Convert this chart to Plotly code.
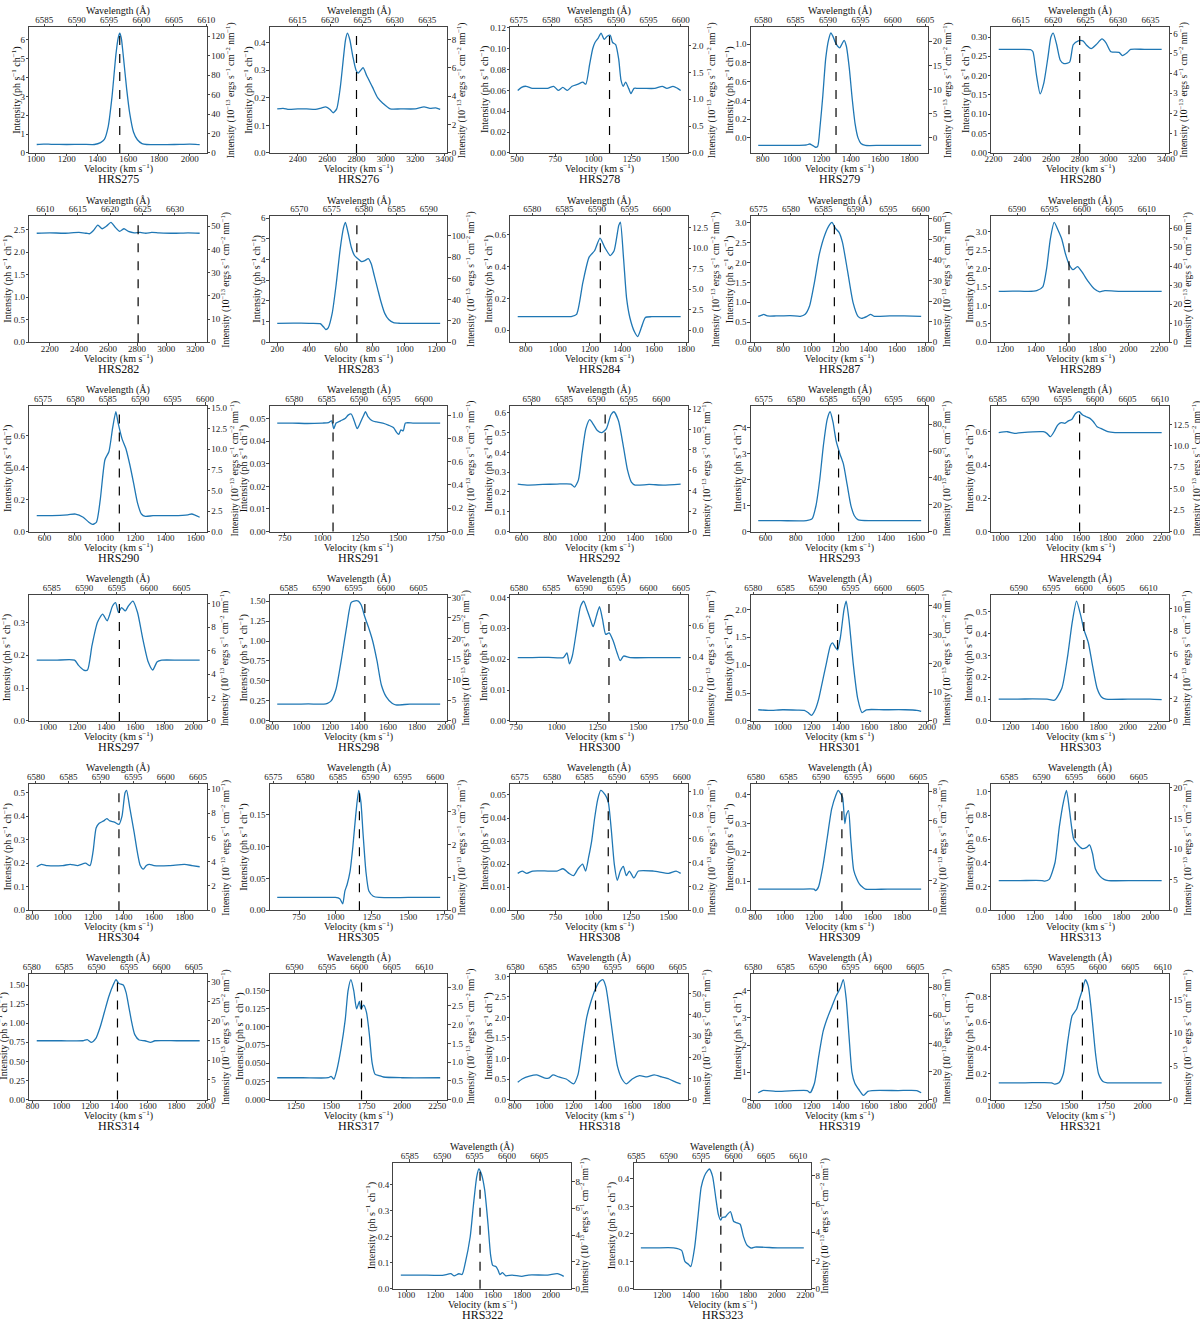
import math

import numpy as np
import plotly.graph_objects as go

C_KMS = 299792.458
HALPHA = 6562.8
WL_SPAN = 27.4  # width of the wavelength axis, Angstrom

names = ["HRS275", "HRS276", "HRS278", "HRS279", "HRS280",
         "HRS282", "HRS283", "HRS284", "HRS287", "HRS289",
         "HRS290", "HRS291", "HRS292", "HRS293", "HRS294",
         "HRS297", "HRS298", "HRS300", "HRS301", "HRS303",
         "HRS304", "HRS305", "HRS308", "HRS309", "HRS313",
         "HRS314", "HRS317", "HRS318", "HRS319", "HRS321",
         "HRS322", "HRS323"]

# systemic velocity (dashed line), km/s
vsys = [1545, 2800, 1105, 1300, 2800,
        2807, 700, 1265, 1160, 1615,
        1095, 1070, 1190, 1085, 1590,
        1490, 1440, 1320, 1380, 1700,
        1370, 1165, 1100, 1390, 1480,
        1390, 1715, 1350, 1380, 1590,
        1510, 1610]

# velocity tick spacing
vel_dtick = [200, 200, 250, 200, 200,
             200, 200, 200, 200, 200,
             200, 250, 200, 200, 200,
             200, 200, 250, 200, 200,
             200, 250, 250, 200, 200,
             200, 250, 200, 200, 250,
             200, 200]

# offset of the observed wavelength scale from the H-alpha conversion, Angstrom
wl_shift = [0.0, 0.0, 1.9, 0.0, 0.0,
            0.0, 0.8, 0.0, -1.5, 0.0,
            0.0, 0.0, 2.5, 0.0, 0.0,
            0.0, 2.4, 2.0, 0.0, 0.0,
            0.0, 0.0, 1.7, 0.0, 0.0,
            0.0, 0.0, 0.0, 0.0, 0.0,
            0.0, 0.0]

# ph s-1 ch-1  ->  1e-13 erg s-1 cm-2 nm-1
flux_factor = [19.4] * 15 + [28.0] + [19.4] * 16

# (velocity km/s, intensity ph s-1 ch-1)
hrs275 = [(1005, 0.45), (1050, 0.47), (1100, 0.46), (1200, 0.45), (1300, 0.46), (1380, 0.45),
          (1420, 0.55), (1445, 0.72), (1470, 1.4), (1495, 3.0), (1520, 5.2), (1535, 6.1),
          (1545, 6.35), (1555, 6.1), (1570, 5.0), (1590, 3.4), (1610, 2.1), (1635, 1.1),
          (1660, 0.7), (1690, 0.5), (1720, 0.45), (1800, 0.44), (1900, 0.45), (2000, 0.47),
          (2040, 0.46), (2065, 0.44)]
hrs276 = [(2260, 0.16), (2300, 0.162), (2340, 0.158), (2400, 0.16), (2460, 0.16), (2520, 0.158),
          (2560, 0.163), (2590, 0.167), (2620, 0.158), (2641, 0.146), (2665, 0.16), (2690, 0.24),
          (2710, 0.34), (2725, 0.41), (2738, 0.435), (2755, 0.41), (2775, 0.35), (2797, 0.30),
          (2811, 0.29), (2828, 0.30), (2845, 0.31), (2870, 0.28), (2908, 0.24), (2945, 0.2),
          (2981, 0.18), (3030, 0.16), (3100, 0.16), (3200, 0.16), (3260, 0.167), (3300, 0.162),
          (3340, 0.164), (3370, 0.158)]
hrs278 = [(505, 0.060), (530, 0.063), (560, 0.064), (600, 0.062), (650, 0.062), (700, 0.062),
          (740, 0.064), (770, 0.060), (800, 0.063), (830, 0.060), (860, 0.064), (900, 0.066),
          (930, 0.068), (950, 0.066), (975, 0.085), (995, 0.1), (1010, 0.106), (1030, 0.11),
          (1050, 0.115), (1070, 0.109), (1090, 0.112), (1110, 0.113), (1125, 0.106), (1145, 0.104),
          (1165, 0.09), (1180, 0.07), (1195, 0.064), (1210, 0.068), (1230, 0.062), (1245, 0.057),
          (1265, 0.062), (1290, 0.062), (1330, 0.062), (1400, 0.062), (1450, 0.064), (1480, 0.062),
          (1520, 0.064), (1550, 0.062), (1570, 0.060)]
hrs279 = [(770, -0.08), (850, -0.08), (950, -0.08), (1050, -0.08), (1100, -0.075), (1120, -0.065),
          (1140, -0.08), (1160, -0.1), (1175, -0.09), (1190, 0.1), (1210, 0.45), (1230, 0.85),
          (1250, 1.05), (1265, 1.12), (1280, 1.08), (1295, 1.02), (1310, 0.98), (1325, 0.96),
          (1340, 1.0), (1355, 1.04), (1370, 0.98), (1390, 0.75), (1410, 0.42), (1430, 0.15),
          (1450, 0.0), (1470, -0.06), (1500, -0.08), (1600, -0.08), (1700, -0.08), (1800, -0.08),
          (1880, -0.08)]
hrs280 = [(2237, 0.268), (2300, 0.268), (2400, 0.268), (2460, 0.267), (2475, 0.262), (2500, 0.2),
          (2525, 0.153), (2550, 0.18), (2580, 0.25), (2600, 0.3), (2616, 0.31), (2640, 0.28),
          (2665, 0.24), (2690, 0.231), (2730, 0.235), (2755, 0.28), (2790, 0.29), (2822, 0.29),
          (2845, 0.28), (2880, 0.27), (2914, 0.28), (2955, 0.295), (2983, 0.285), (3017, 0.262),
          (3074, 0.26), (3097, 0.252), (3131, 0.26), (3154, 0.268), (3250, 0.268), (3370, 0.268)]
hrs282 = [(2110, 2.42), (2200, 2.43), (2300, 2.42), (2400, 2.44), (2450, 2.42), (2475, 2.41),
          (2500, 2.48), (2530, 2.6), (2560, 2.52), (2590, 2.58), (2620, 2.66), (2650, 2.55),
          (2680, 2.46), (2710, 2.52), (2740, 2.46), (2780, 2.43), (2820, 2.44), (2860, 2.42),
          (2900, 2.44), (2950, 2.43), (3050, 2.42), (3150, 2.43), (3230, 2.42)]
hrs283 = [(200, 0.92), (300, 0.93), (400, 0.92), (470, 0.9), (490, 0.75), (505, 0.62), (520, 0.7),
          (545, 1.4), (570, 2.8), (595, 4.5), (615, 5.5), (628, 5.8), (645, 5.3), (665, 4.6),
          (685, 4.2), (705, 4.05), (730, 3.9), (750, 3.95), (772, 4.05), (790, 3.8), (810, 3.2),
          (830, 2.6), (850, 2.0), (875, 1.4), (900, 1.1), (930, 0.95), (970, 0.92), (1050, 0.92),
          (1150, 0.92), (1223, 0.92)]
hrs284 = [(750, 0.085), (850, 0.085), (950, 0.086), (1050, 0.085), (1083, 0.086), (1117, 0.1),
          (1156, 0.3), (1195, 0.46), (1229, 0.5), (1263, 0.58), (1293, 0.52), (1327, 0.47),
          (1351, 0.5), (1380, 0.66), (1390, 0.68), (1410, 0.45), (1429, 0.2), (1449, 0.08),
          (1478, -0.01), (1498, -0.04), (1522, 0.02), (1546, 0.08), (1585, 0.085), (1650, 0.085),
          (1766, 0.085)]
hrs287 = [(625, 0.65), (650, 0.68), (664, 0.7), (689, 0.66), (750, 0.66), (850, 0.67), (921, 0.65),
          (955, 0.7), (985, 0.9), (1020, 1.5), (1054, 2.2), (1094, 2.7), (1128, 2.95), (1143, 3.0),
          (1168, 2.85), (1193, 2.75), (1217, 2.5), (1252, 1.8), (1291, 1.0), (1326, 0.65),
          (1351, 0.6), (1390, 0.65), (1415, 0.7), (1440, 0.65), (1550, 0.66), (1650, 0.66),
          (1770, 0.65)]
hrs289 = [(1160, 1.38), (1250, 1.39), (1350, 1.38), (1406, 1.4), (1445, 1.5), (1470, 2.0),
          (1494, 2.8), (1519, 3.25), (1543, 3.05), (1568, 2.8), (1592, 2.4), (1617, 2.1),
          (1641, 1.97), (1670, 2.05), (1700, 1.9), (1739, 1.65), (1778, 1.45), (1813, 1.37),
          (1847, 1.4), (1950, 1.38), (2100, 1.38), (2215, 1.38)]
hrs290 = [(549, 0.1), (650, 0.1), (754, 0.105), (805, 0.11), (856, 0.09), (892, 0.06),
          (918, 0.045), (944, 0.06), (969, 0.2), (1000, 0.45), (1026, 0.5), (1051, 0.65),
          (1072, 0.75), (1087, 0.68), (1113, 0.58), (1138, 0.52), (1164, 0.42), (1190, 0.3),
          (1215, 0.18), (1241, 0.11), (1267, 0.095), (1318, 0.1), (1450, 0.1), (1549, 0.105),
          (1574, 0.11), (1626, 0.09)]
hrs291 = [(700, 0.048), (800, 0.048), (900, 0.0478), (1000, 0.048), (1040, 0.0482), (1060, 0.049),
          (1075, 0.0455), (1090, 0.048), (1120, 0.049), (1150, 0.05), (1170, 0.0515), (1190, 0.052),
          (1210, 0.049), (1230, 0.0455), (1250, 0.048), (1270, 0.051), (1285, 0.053), (1300, 0.051),
          (1330, 0.049), (1360, 0.0485), (1400, 0.048), (1440, 0.047), (1470, 0.046), (1490, 0.044),
          (1505, 0.043), (1520, 0.045), (1535, 0.0445), (1550, 0.048), (1600, 0.048), (1700, 0.048),
          (1780, 0.048)]
hrs292 = [(573, 0.24), (650, 0.235), (750, 0.238), (850, 0.24), (948, 0.24), (974, 0.225),
          (1001, 0.26), (1028, 0.4), (1054, 0.52), (1081, 0.565), (1108, 0.54), (1135, 0.51),
          (1167, 0.5), (1199, 0.52), (1231, 0.59), (1252, 0.605), (1284, 0.56), (1321, 0.42),
          (1348, 0.31), (1375, 0.25), (1401, 0.235), (1500, 0.238), (1600, 0.235), (1723, 0.24)]
hrs293 = [(551, 0.42), (700, 0.42), (871, 0.42), (910, 0.5), (935, 1.0), (960, 2.0), (984, 3.3),
          (1009, 4.3), (1029, 4.6), (1048, 4.2), (1068, 3.5), (1093, 3.0), (1117, 2.6),
          (1142, 1.8), (1167, 1.0), (1191, 0.6), (1216, 0.45), (1300, 0.42), (1450, 0.42),
          (1634, 0.42)]
hrs294 = [(989, 0.595), (1053, 0.6), (1107, 0.59), (1160, 0.595), (1320, 0.6), (1347, 0.59),
          (1373, 0.57), (1400, 0.6), (1427, 0.64), (1453, 0.655), (1480, 0.65), (1507, 0.665),
          (1533, 0.675), (1560, 0.71), (1587, 0.72), (1613, 0.7), (1640, 0.69), (1667, 0.68),
          (1693, 0.66), (1720, 0.63), (1747, 0.62), (1800, 0.6), (1853, 0.595), (2000, 0.595),
          (2200, 0.595)]
hrs297 = [(922, 0.185), (1050, 0.185), (1182, 0.185), (1208, 0.17), (1245, 0.155), (1271, 0.155),
          (1302, 0.23), (1339, 0.3), (1375, 0.325), (1406, 0.305), (1443, 0.35), (1464, 0.36),
          (1484, 0.33), (1505, 0.345), (1531, 0.335), (1552, 0.35), (1583, 0.365), (1615, 0.33),
          (1651, 0.25), (1688, 0.18), (1719, 0.155), (1750, 0.18), (1781, 0.185), (1900, 0.185),
          (2042, 0.185)]
hrs298 = [(835, 0.21), (950, 0.21), (1050, 0.212), (1157, 0.21), (1182, 0.22), (1207, 0.25),
          (1241, 0.4), (1281, 0.8), (1316, 1.2), (1345, 1.48), (1365, 1.5), (1395, 1.5),
          (1415, 1.45), (1440, 1.3), (1469, 1.15), (1494, 1.0), (1524, 0.75), (1554, 0.45),
          (1588, 0.3), (1628, 0.22), (1653, 0.2), (1750, 0.21), (1850, 0.21), (1960, 0.21)]
hrs300 = [(760, 0.0205), (850, 0.0205), (950, 0.0206), (1040, 0.0205), (1062, 0.022),
          (1077, 0.0185), (1095, 0.021), (1120, 0.029), (1145, 0.037), (1165, 0.0388),
          (1185, 0.036), (1205, 0.033), (1223, 0.0305), (1243, 0.034), (1262, 0.037),
          (1280, 0.033), (1300, 0.028), (1321, 0.0285), (1345, 0.026), (1370, 0.022),
          (1389, 0.0195), (1410, 0.021), (1450, 0.0205), (1600, 0.0205), (1760, 0.0205)]
hrs301 = [(830, 0.2), (900, 0.19), (1000, 0.2), (1100, 0.195), (1150, 0.19), (1175, 0.15),
          (1200, 0.1), (1225, 0.2), (1250, 0.4), (1275, 0.7), (1300, 1.0), (1330, 1.35),
          (1345, 1.4), (1365, 1.32), (1380, 1.27), (1400, 1.5), (1425, 2.0), (1440, 2.15),
          (1460, 1.8), (1490, 1.0), (1520, 0.4), (1550, 0.15), (1580, 0.2), (1700, 0.2),
          (1850, 0.2), (1930, 0.19), (1960, 0.17)]
hrs303 = [(1120, 0.1), (1250, 0.1), (1350, 0.101), (1450, 0.1), (1500, 0.095), (1550, 0.15),
          (1590, 0.3), (1620, 0.45), (1650, 0.55), (1680, 0.48), (1700, 0.42), (1730, 0.36),
          (1760, 0.25), (1790, 0.15), (1820, 0.11), (1850, 0.1), (2000, 0.1), (2150, 0.1),
          (2230, 0.098)]
hrs304 = [(830, 0.185), (860, 0.195), (900, 0.19), (1000, 0.19), (1050, 0.195), (1100, 0.19),
          (1150, 0.2), (1180, 0.19), (1200, 0.25), (1220, 0.35), (1240, 0.37), (1270, 0.38),
          (1290, 0.39), (1310, 0.38), (1340, 0.375), (1370, 0.365), (1390, 0.4), (1410, 0.5),
          (1420, 0.51), (1440, 0.44), (1470, 0.33), (1490, 0.25), (1510, 0.19), (1530, 0.175),
          (1550, 0.19), (1570, 0.195), (1600, 0.19), (1700, 0.19), (1800, 0.195), (1850, 0.19),
          (1900, 0.185)]
hrs305 = [(600, 0.02), (750, 0.02), (900, 0.02), (1000, 0.02), (1030, 0.018), (1050, 0.01),
          (1065, 0.03), (1080, 0.04), (1100, 0.06), (1120, 0.1), (1140, 0.15), (1160, 0.188),
          (1175, 0.17), (1190, 0.12), (1210, 0.06), (1230, 0.03), (1260, 0.022), (1300, 0.02),
          (1500, 0.02), (1720, 0.02)]
hrs308 = [(500, 0.016), (530, 0.017), (560, 0.016), (600, 0.017), (700, 0.017), (760, 0.017),
          (800, 0.018), (840, 0.016), (870, 0.015), (900, 0.018), (930, 0.02), (950, 0.017),
          (970, 0.023), (990, 0.03), (1010, 0.04), (1030, 0.048), (1050, 0.052), (1080, 0.05),
          (1100, 0.047), (1120, 0.035), (1140, 0.02), (1160, 0.013), (1180, 0.017), (1200, 0.019),
          (1220, 0.015), (1240, 0.017), (1270, 0.014), (1300, 0.017), (1400, 0.017), (1500, 0.016),
          (1550, 0.017), (1580, 0.016)]
hrs309 = [(820, 0.073), (950, 0.073), (1100, 0.073), (1200, 0.073), (1210, 0.068), (1230, 0.08),
          (1260, 0.15), (1290, 0.25), (1320, 0.35), (1350, 0.4), (1365, 0.415), (1380, 0.405),
          (1395, 0.39), (1410, 0.3), (1420, 0.33), (1435, 0.345), (1450, 0.25), (1470, 0.14),
          (1490, 0.11), (1510, 0.09), (1530, 0.08), (1550, 0.073), (1700, 0.073), (1930, 0.073)]
hrs313 = [(950, 0.25), (1100, 0.25), (1250, 0.25), (1270, 0.245), (1300, 0.26), (1340, 0.4),
          (1370, 0.7), (1400, 0.92), (1420, 1.01), (1440, 0.85), (1470, 0.6), (1500, 0.55),
          (1530, 0.52), (1560, 0.53), (1580, 0.55), (1600, 0.48), (1620, 0.35), (1650, 0.29),
          (1680, 0.26), (1710, 0.25), (1900, 0.25), (2080, 0.25)]
hrs314 = [(830, 0.77), (1000, 0.77), (1150, 0.77), (1180, 0.785), (1210, 0.75), (1240, 0.8),
          (1270, 0.95), (1300, 1.15), (1330, 1.35), (1360, 1.5), (1380, 1.57), (1400, 1.52),
          (1430, 1.5), (1450, 1.4), (1470, 1.2), (1490, 1.0), (1510, 0.85), (1540, 0.78),
          (1580, 0.77), (1620, 0.75), (1650, 0.77), (1800, 0.77), (1960, 0.77)]
hrs317 = [(1120, 0.03), (1300, 0.03), (1480, 0.03), (1500, 0.032), (1520, 0.028), (1540, 0.04),
          (1570, 0.07), (1600, 0.11), (1620, 0.15), (1640, 0.165), (1660, 0.15), (1680, 0.125),
          (1700, 0.135), (1710, 0.125), (1730, 0.13), (1750, 0.12), (1770, 0.09), (1790, 0.05),
          (1810, 0.035), (1840, 0.033), (1870, 0.031), (2000, 0.03), (2270, 0.03)]
hrs318 = [(820, 0.42), (850, 0.5), (900, 0.57), (950, 0.6), (1000, 0.53), (1030, 0.52),
          (1060, 0.6), (1100, 0.55), (1150, 0.5), (1200, 0.38), (1230, 0.6), (1260, 1.3),
          (1290, 2.0), (1320, 2.4), (1350, 2.7), (1380, 2.88), (1400, 2.92), (1420, 2.75),
          (1440, 2.3), (1470, 1.5), (1500, 0.8), (1530, 0.5), (1560, 0.38), (1600, 0.5),
          (1650, 0.58), (1700, 0.55), (1750, 0.6), (1800, 0.55), (1850, 0.5), (1900, 0.42),
          (1930, 0.38)]
hrs319 = [(830, 0.25), (860, 0.33), (950, 0.3), (1050, 0.32), (1170, 0.33), (1190, 0.25),
          (1220, 0.6), (1250, 1.6), (1280, 2.5), (1310, 3.0), (1340, 3.4), (1370, 3.8),
          (1400, 4.1), (1420, 4.4), (1440, 3.7), (1460, 2.3), (1480, 1.0), (1500, 0.6),
          (1530, 0.35), (1560, 0.15), (1590, 0.3), (1620, 0.33), (1800, 0.33), (1930, 0.33),
          (1960, 0.25)]
hrs321 = [(1020, 0.13), (1200, 0.13), (1380, 0.13), (1400, 0.12), (1430, 0.13), (1460, 0.2),
          (1490, 0.45), (1520, 0.65), (1550, 0.7), (1570, 0.78), (1590, 0.85), (1610, 0.93),
          (1630, 0.88), (1650, 0.7), (1680, 0.35), (1700, 0.2), (1730, 0.14), (1760, 0.13),
          (1950, 0.13), (2130, 0.13)]
hrs322 = [(962, 0.053), (1100, 0.053), (1250, 0.052), (1308, 0.058), (1330, 0.05), (1364, 0.058),
          (1386, 0.055), (1408, 0.1), (1442, 0.2), (1464, 0.32), (1487, 0.43), (1502, 0.46),
          (1520, 0.44), (1542, 0.38), (1565, 0.25), (1583, 0.13), (1598, 0.09), (1621, 0.085),
          (1636, 0.07), (1647, 0.055), (1665, 0.062), (1688, 0.05), (1732, 0.053), (1799, 0.048),
          (1844, 0.053), (1978, 0.053), (2045, 0.058), (2089, 0.048)]
hrs323 = [(1052, 0.149), (1150, 0.149), (1280, 0.149), (1336, 0.14), (1359, 0.1), (1382, 0.09),
          (1400, 0.081), (1427, 0.15), (1450, 0.26), (1473, 0.37), (1495, 0.41), (1518, 0.43),
          (1530, 0.436), (1552, 0.41), (1575, 0.33), (1593, 0.27), (1609, 0.25), (1620, 0.26),
          (1643, 0.262), (1655, 0.27), (1677, 0.281), (1700, 0.245), (1723, 0.24), (1745, 0.235),
          (1768, 0.19), (1791, 0.16), (1814, 0.15), (1825, 0.148), (1848, 0.152), (2007, 0.149),
          (2189, 0.149)]

spectra = [hrs275, hrs276, hrs278, hrs279, hrs280,
           hrs282, hrs283, hrs284, hrs287, hrs289,
           hrs290, hrs291, hrs292, hrs293, hrs294,
           hrs297, hrs298, hrs300, hrs301, hrs303,
           hrs304, hrs305, hrs308, hrs309, hrs313,
           hrs314, hrs317, hrs318, hrs319, hrs321,
           hrs322, hrs323]

FONT = "Liberation Serif"
AXC = "#444444"
W, H = 1200, 1329
PW, PH = 180.0, 126.7


def nice_ticks(lo, hi, nbins=7):
    """matplotlib-like MaxNLocator with steps 1, 2, 2.5, 5, 10."""
    raw = (hi - lo) / nbins
    scale = 10 ** math.floor(math.log10(raw))
    for s in (1, 2, 2.5, 5, 10):
        step = s * scale
        if step >= raw * (1 - 1e-9):
            break
    dec = max(0, -math.floor(math.log10(step) + 1e-9))
    if abs(s - 2.5) < 1e-9:
        dec += 1
    first = math.ceil(lo / step - 1e-9)
    vals = []
    i = first
    while i * step <= hi + 1e-12:
        vals.append(round(i * step, 10))
        i += 1
    text = [f"{v:.{dec}f}".replace("-", "\u2212") for v in vals]
    return vals, text


def to_wl(v):
    return HALPHA * (1 + np.asarray(v, dtype=float) / C_KMS)


fig = go.Figure()
layout = {}
shapes = []
annotations = []

tickfont = dict(family=FONT, size=9, color="#222")


def label(text, x, y, angle=0, size=10):
    annotations.append(dict(text=text, x=x / W, y=1 - y / H, xref="paper", yref="paper",
                            showarrow=False, xanchor="center", yanchor="middle",
                            textangle=angle, font=dict(family=FONT, size=size, color="#111")))


for k, name in enumerate(names):
    r, c = divmod(k, 5)
    left = 22.7 + 243.75 * c if r < 6 else [391.7, 635.0][c]
    top = 23.3 + 190.6 * r
    bottom = top + PH
    xd = [left / W, (left + PW) / W]
    yd = [1 - bottom / H, 1 - top / H]

    v = np.array([p[0] for p in spectra[k]], dtype=float)
    f = np.array([p[1] for p in spectra[k]], dtype=float)
    pad = 0.045 * (v.max() - v.min())
    vlo, vhi = v.min() - pad, v.max() + pad
    span = f.max() - min(f.min(), 0)
    flo = 0.0 if f.min() >= 0 else f.min() - 0.05 * span
    fhi = f.max() + 0.05 * span
    K = flux_factor[k]

    a, b = 2 * k + 1, 2 * k + 2
    xa = "x" if a == 1 else f"x{a}"
    ya = "y" if a == 1 else f"y{a}"
    xb, yb = f"x{b}", f"y{b}"
    xak = "xaxis" if a == 1 else f"xaxis{a}"
    yak = "yaxis" if a == 1 else f"yaxis{a}"

    fig.add_trace(go.Scatter(x=v, y=f, xaxis=xa, yaxis=ya, mode="lines",
                             line=dict(color="#1f77b4", width=1.3, shape="spline", smoothing=0.6),
                             showlegend=False, hoverinfo="skip"))
    # invisible companion on the wavelength / flux axes
    wl = to_wl(v) + wl_shift[k]
    fig.add_trace(go.Scatter(x=wl, y=f * K, xaxis=xb, yaxis=yb, mode="lines",
                             line=dict(width=0), opacity=0, showlegend=False, hoverinfo="skip"))

    common = dict(showgrid=False, zeroline=False, showline=True, linecolor=AXC, linewidth=1,
                  ticks="outside", ticklen=2.5, tickwidth=0.8, tickcolor=AXC,
                  tickfont=tickfont)

    d = vel_dtick[k]
    xt = list(range(int(math.ceil(vlo / d)) * d, int(vhi) + 1, d))
    layout[xak] = dict(domain=xd, anchor=ya, range=[vlo, vhi], tickvals=xt,
                       ticktext=[str(t) for t in xt], ticklabelstandoff=-5, **common)
    yv, ytx = nice_ticks(flo, fhi)
    layout[yak] = dict(domain=yd, anchor=xa, range=[flo, fhi], tickvals=yv, ticktext=ytx,
                       ticklabelstandoff=-1, **common)
    wl_mid = float(to_wl(0.5 * (vlo + vhi))) + wl_shift[k]
    layout[f"xaxis{b}"] = dict(overlaying=xa, side="top", anchor=ya,
                               range=[wl_mid - WL_SPAN / 2, wl_mid + WL_SPAN / 2],
                               tick0=0, dtick=5, ticklabelstandoff=-3, **common)
    rv, rtx = nice_ticks(flo * K, fhi * K)
    layout[f"yaxis{b}"] = dict(overlaying=ya, side="right", anchor=xa, range=[flo * K, fhi * K],
                               tickvals=rv, ticktext=rtx, ticklabelstandoff=-1, **common)

    shapes.append(dict(type="line", xref=xa, yref=f"{ya} domain", x0=vsys[k], x1=vsys[k],
                       y0=0, y1=1, line=dict(color="black", width=1.2, dash="dash")))

    nl = max(len(t) for t in ytx)
    nr = max(len(t) for t in rtx)
    label("Wavelength (\u00c5)", left + PW / 2, top - 16)
    label("Velocity (km s<sup>\u22121</sup>)", left + PW / 2, bottom + 16)
    label(name, left + PW / 2, bottom + 26.5, size=12)
    label("Intensity (ph s<sup>\u22121</sup> ch<sup>\u22121</sup>)", left - 9.5 - 4.3 * nl,
          top + PH / 2, angle=-90)
    label("Intensity (10<sup>\u221213</sup> ergs s<sup>\u22121</sup> cm<sup>\u22122</sup> "
          "nm<sup>\u22121</sup>)", left + PW + 9 + 4.8 * nr, top + PH / 2, angle=-90, size=9.5)

fig.update_layout(width=W, height=H, margin=dict(l=0, r=0, t=0, b=0),
                  paper_bgcolor="white", plot_bgcolor="white",
                  shapes=shapes, annotations=annotations, **layout)

# drop the browser's default page margin so the figure sits at (0, 0)
fig.write_html("out.html", config={"displayModeBar": False},
               post_script="document.body.style.margin='0';")
